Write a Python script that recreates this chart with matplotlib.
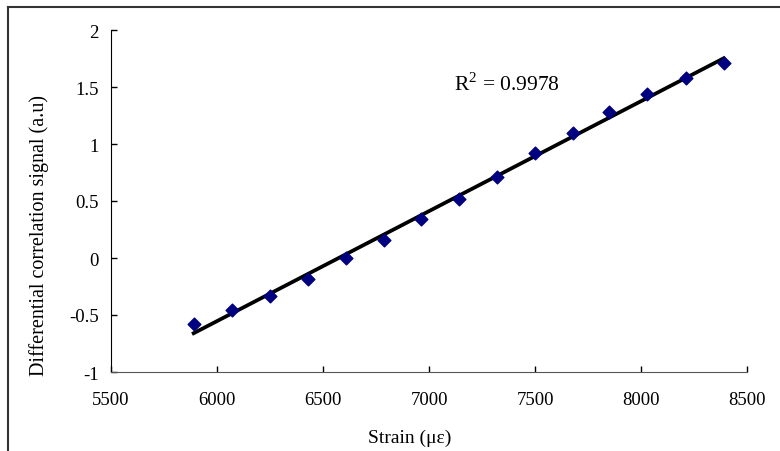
# 歪み vs 差動相関信号の散布図と近似直線
import numpy as np
import matplotlib.pyplot as plt
from matplotlib.lines import Line2D

# データ
strain = [5890, 6070, 6250, 6430, 6610, 6790, 6960, 7140,
          7320, 7500, 7680, 7850, 8030, 8210, 8390]
signal = [-0.58, -0.46, -0.33, -0.18, 0.00, 0.16, 0.34, 0.52,
          0.71, 0.92, 1.10, 1.28, 1.44, 1.58, 1.71]
x_ticks = [5500, 6000, 6500, 7000, 7500, 8000, 8500]
y_ticks = [-1, -0.5, 0, 0.5, 1, 1.5, 2]
y_tick_labels = ["-1", "-0.5", "0", "0.5", "1", "1.5", "2"]
r2_text = "R$^2$ = 0.9978"

plt.rcParams["font.family"] = ["Liberation Serif", "DejaVu Serif"]
plt.rcParams["mathtext.fontset"] = "custom"
plt.rcParams["mathtext.rm"] = "Liberation Serif"

fig = plt.figure(figsize=(7.8, 4.52), dpi=100)
W, H = 780, 452
ax = fig.add_axes([111 / W, 1 - 373 / H, (747 - 111) / W, (373 - 31) / H])

# 近似直線 (最小二乗)
coef = np.polyfit(strain, signal, 1)
xs = np.array([strain[0], strain[-1]])
ax.plot(xs, np.polyval(coef, xs), color="black", linewidth=2.7, zorder=2)

# 点
ax.scatter(strain, signal, marker="D", s=42, color="#000080", zorder=3)

ax.set_xlim(5500, 8500)
ax.set_ylim(-1, 2)
ax.set_xticks(x_ticks)
ax.set_yticks(y_ticks)
ax.set_yticklabels(y_tick_labels)
ax.tick_params(direction="in", length=4, width=1, labelsize=13.5)
ax.tick_params(axis="x", pad=14)
ax.tick_params(axis="y", pad=9)
for s in ["top", "right"]:
    ax.spines[s].set_visible(False)
ax.spines["left"].set_color("black")
ax.spines["bottom"].set_color("#555555")

ax.set_xlabel("Strain (με)", fontsize=14)
ax.xaxis.set_label_coords((410 - 111) / (747 - 111), -(438 - 373) / (373 - 31),
                          transform=ax.transAxes)
ax.set_ylabel("Differential correlation signal (a.u)", fontsize=14.5)
ax.yaxis.set_label_coords(-(111 - 39) / (747 - 111), 1 - (236 - 31) / (373 - 31),
                          transform=ax.transAxes)
ax.xaxis.label.set_va("center")
ax.yaxis.label.set_va("center")

ax.text(7117, 1.535, r2_text, fontsize=15.5, va="center", ha="left")

# 外枠 (上と左)
fig.add_artist(Line2D([8 / W, 1], [1 - 8 / H, 1 - 8 / H], color="#333333", linewidth=1.5))
fig.add_artist(Line2D([8 / W, 8 / W], [0, 1 - 8 / H], color="#333333", linewidth=1.5))

fig.savefig("out.png", dpi=100)
